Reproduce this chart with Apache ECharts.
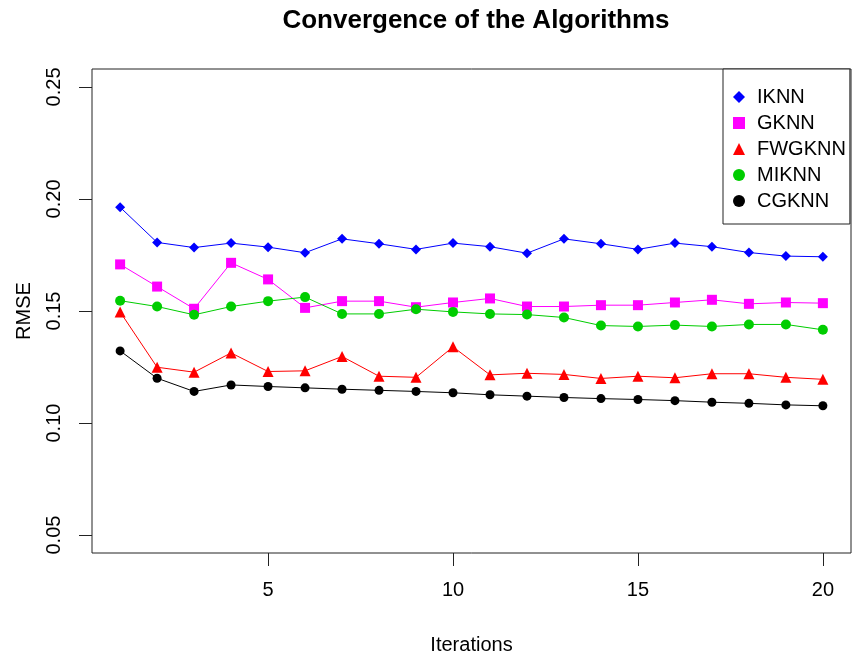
<!DOCTYPE html>
<html lang="en">
<head>
    <meta charset="UTF-8">
    <title>Convergence of the Algorithms</title>
    <script src="https://cdn.jsdelivr.net/npm/echarts@6/dist/echarts.min.js"></script>
    <style>
        html, body { margin: 0; padding: 0; background: #fff; }
        #main { width: 854px; height: 660px; }
    </style>
</head>
<body>
    <div id="main"></div>
    <script type="text/javascript">
        // values
        var iterations = [1, 2, 3, 4, 5, 6, 7, 8, 9, 10, 11, 12, 13, 14, 15, 16, 17, 18, 19, 20];
        var iknn   = [0.1963, 0.1806, 0.1783, 0.1803, 0.1785, 0.1760, 0.1822, 0.1800, 0.1775, 0.1803,
                      0.1787, 0.1758, 0.1822, 0.1800, 0.1775, 0.1803, 0.1787, 0.1761, 0.1745, 0.1742];
        var gknn   = [0.1708, 0.1609, 0.1510, 0.1715, 0.1641, 0.1514, 0.1544, 0.1544, 0.1517, 0.1538,
                      0.1556, 0.1520, 0.1520, 0.1526, 0.1526, 0.1538, 0.1550, 0.1532, 0.1538, 0.1535];
        var fwgknn = [0.1496, 0.1249, 0.1227, 0.1313, 0.1230, 0.1233, 0.1297, 0.1209, 0.1204, 0.1340,
                      0.1215, 0.1222, 0.1217, 0.1199, 0.1209, 0.1202, 0.1220, 0.1220, 0.1204, 0.1195];
        var miknn  = [0.1546, 0.1520, 0.1483, 0.1520, 0.1544, 0.1562, 0.1487, 0.1487, 0.1508, 0.1496,
                      0.1487, 0.1484, 0.1471, 0.1435, 0.1431, 0.1437, 0.1431, 0.1440, 0.1440, 0.1416];
        var cgknn  = [0.1322, 0.1200, 0.1141, 0.1170, 0.1163, 0.1157, 0.1151, 0.1146, 0.1141, 0.1135,
                      0.1126, 0.1120, 0.1114, 0.1109, 0.1105, 0.1100, 0.1093, 0.1088, 0.1081, 0.1077];

        var xTicks = [5, 10, 15, 20];
        var yTicks = [0.05, 0.10, 0.15, 0.20, 0.25];

        var font = 'Liberation Sans, Arial, sans-serif';

        function pairs(ys) {
            return iterations.map(function (x, i) { return [x, ys[i]]; });
        }

        function line(name, ys, color, symbol, size) {
            return {
                name: name,
                type: 'line',
                data: pairs(ys),
                symbol: symbol,
                symbolSize: size,
                showAllSymbol: true,
                lineStyle: { color: color, width: 1 },
                itemStyle: { color: color },
                emphasis: { disabled: true }
            };
        }

        var myChart = echarts.init(document.getElementById('main'));
        var option = {
            animation: false,
            backgroundColor: '#fff',
            title: {
                text: 'Convergence of the Algorithms',
                left: 471,
                textAlign: 'center',
                top: 3,
                textStyle: { fontFamily: font, fontSize: 26, fontWeight: 'bold', color: '#000' }
            },
            grid: {
                left: 92, right: 3, top: 69, bottom: 107,
                show: true,
                borderColor: '#222',
                borderWidth: 1
            },
            legend: {
                orient: 'vertical',
                left: 723,
                top: 69,
                padding: [15, 4, 10, 10],
                itemGap: 0,
                itemWidth: 12,
                itemHeight: 12,
                borderColor: '#222',
                borderWidth: 1,
                backgroundColor: '#fff',
                textStyle: { fontFamily: font, fontSize: 20, color: '#000', lineHeight: 26, padding: [0, 0, 0, 7] },
                data: [
                    { name: 'IKNN', icon: 'diamond' },
                    { name: 'GKNN', icon: 'rect' },
                    { name: 'FWGKNN', icon: 'triangle' },
                    { name: 'MIKNN', icon: 'circle' },
                    { name: 'CGKNN', icon: 'circle' }
                ]
            },
            xAxis: {
                type: 'value',
                min: 0.24,
                max: 20.76,
                name: 'Iterations',
                nameLocation: 'middle',
                nameGap: 82,
                nameTextStyle: { fontFamily: font, fontSize: 20, color: '#000' },
                axisLine: { show: false },
                splitLine: { show: false },
                axisTick: { show: true, length: 13, customValues: xTicks, lineStyle: { color: '#222' } },
                axisLabel: { customValues: xTicks, margin: 27, fontFamily: font, fontSize: 20, color: '#000' }
            },
            yAxis: {
                type: 'value',
                min: 0.042,
                max: 0.258,
                name: 'RMSE',
                nameLocation: 'middle',
                nameGap: 58,
                nameTextStyle: { fontFamily: font, fontSize: 20, color: '#000' },
                axisLine: { show: false },
                splitLine: { show: false },
                axisTick: { show: true, length: 13, customValues: yTicks, lineStyle: { color: '#222' } },
                axisLabel: {
                    customValues: yTicks,
                    rotate: 90,
                    margin: 28,
                    fontFamily: font, fontSize: 20, color: '#000',
                    formatter: function (v) { return v.toFixed(2); }
                }
            },
            series: [
                line('IKNN', iknn, '#0000ff', 'diamond', 10),
                line('GKNN', gknn, '#ff00ff', 'rect', 10),
                line('FWGKNN', fwgknn, '#ff0000', 'triangle', 11),
                line('MIKNN', miknn, '#00cd00', 'circle', 10),
                line('CGKNN', cgknn, '#000000', 'circle', 9)
            ]
        };
        myChart.setOption(option);
    </script>
</body>
</html>
